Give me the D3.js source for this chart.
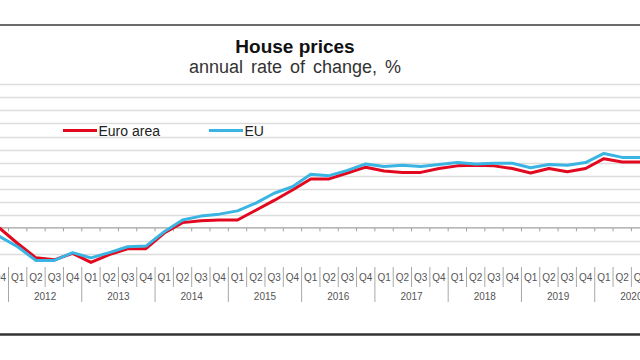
<!DOCTYPE html>
<html>
<head>
<meta charset="utf-8">
<script src="https://cdn.jsdelivr.net/npm/d3@7"></script>
<style>
  html, body { margin: 0; padding: 0; background: #fff; }
  svg { display: block; font-family: "Liberation Sans", Arial, sans-serif; }
</style>
</head>
<body>
<svg id="chart" width="640" height="360"></svg>
<script>
// ---- data ----
const years = [2012, 2013, 2014, 2015, 2016, 2017, 2018, 2019, 2020];
const quarters = [
  "2011-Q4",
  "2012-Q1","2012-Q2","2012-Q3","2012-Q4",
  "2013-Q1","2013-Q2","2013-Q3","2013-Q4",
  "2014-Q1","2014-Q2","2014-Q3","2014-Q4",
  "2015-Q1","2015-Q2","2015-Q3","2015-Q4",
  "2016-Q1","2016-Q2","2016-Q3","2016-Q4",
  "2017-Q1","2017-Q2","2017-Q3","2017-Q4",
  "2018-Q1","2018-Q2","2018-Q3","2018-Q4",
  "2019-Q1","2019-Q2","2019-Q3","2019-Q4",
  "2020-Q1","2020-Q2","2020-Q3"
];
const euroArea = [
  0.0,
  -1.2, -2.3, -2.45, -1.95,
  -2.65, -2.05, -1.6, -1.6,
  -0.4, 0.4, 0.55, 0.6,
  0.6, 1.35, 2.1, 2.9,
  3.75, 3.75, 4.2, 4.65,
  4.35, 4.25, 4.25, 4.55,
  4.75, 4.8, 4.75, 4.55,
  4.2, 4.55, 4.3, 4.55,
  5.3, 5.05, 5.05
];
const eu = [
  -0.65,
  -1.45, -2.5, -2.5, -1.9,
  -2.3, -1.9, -1.45, -1.4,
  -0.3, 0.6, 0.9, 1.05,
  1.3, 1.9, 2.65, 3.15,
  4.1, 4.0, 4.4, 4.9,
  4.7, 4.8, 4.7, 4.85,
  5.0, 4.9, 4.95, 4.95,
  4.6, 4.85, 4.8, 5.0,
  5.7, 5.4, 5.4
];
const seriesNames = ["Euro area", "EU"];
const seriesColors = ["#E2081F", "#3AB4E2"];
const yTicks = [-2, -1, 1, 2, 3, 4, 5, 6, 7, 8, 9, 10, 11];
const title = "House prices";
const subtitle = "annual rate of change, %";

// ---- layout ----
const svg = d3.select("#chart");
const W = 640;
const bandW = 18.32;
const xStart = 8.5 - bandW;
const plotTop = 84.3, plotBottom = 267;

const x = d3.scaleBand()
  .domain(quarters)
  .range([xStart, xStart + bandW * quarters.length])
  .paddingInner(0).paddingOuter(0);
const y = d3.scaleLinear().domain([-3, 11]).range([plotBottom, plotTop]);

// frame lines
svg.append("line").attr("x1", 0).attr("x2", W).attr("y1", 25).attr("y2", 25)
  .attr("stroke", "#3a3a3a").attr("stroke-width", 1.6);
svg.append("line").attr("x1", 0).attr("x2", W).attr("y1", 334.5).attr("y2", 334.5)
  .attr("stroke", "#333").attr("stroke-width", 2.6);

// gridlines
svg.append("g").selectAll("line").data(yTicks).join("line")
  .attr("x1", 0).attr("x2", W)
  .attr("y1", d => Math.round(y(d)) + 0.5).attr("y2", d => Math.round(y(d)) + 0.5)
  .attr("stroke", "#dcdcdc").attr("stroke-width", 1.4);

// zero axis with ticks
const y0 = y(0);
svg.append("line").attr("x1", 0).attr("x2", W).attr("y1", y0).attr("y2", y0)
  .attr("stroke", "#a0a0a0").attr("stroke-width", 1.4);
const boundaries = quarters.map(q => x(q));
svg.append("g").selectAll("line").data(boundaries).join("line")
  .attr("x1", d => d).attr("x2", d => d)
  .attr("y1", y0).attr("y2", y0 + 3.5)
  .attr("stroke", "#a0a0a0").attr("stroke-width", 1);

// category axis: quarter separators & labels
const sepColor = "#a8a8a8";
svg.append("g").selectAll("line").data(quarters).join("line")
  .attr("x1", d => x(d)).attr("x2", d => x(d))
  .attr("y1", plotBottom)
  .attr("y2", d => d.endsWith("Q1") ? 302 : 287)
  .attr("stroke", sepColor).attr("stroke-width", 1);

svg.append("g").selectAll("text").data(quarters).join("text")
  .attr("x", d => x(d) + x.bandwidth() / 2)
  .attr("y", 281)
  .attr("text-anchor", "middle")
  .attr("font-size", 10)
  .attr("fill", "#555")
  .text(d => d.split("-")[1]);

svg.append("g").selectAll("text").data(years).join("text")
  .attr("x", d => x(d + "-Q1") + 2 * bandW)
  .attr("y", 299.5)
  .attr("text-anchor", "middle")
  .attr("font-size", 10)
  .attr("fill", "#555")
  .text(d => d);

// lines
const line = d3.line()
  .x((d, i) => x(quarters[i]) + x.bandwidth() / 2)
  .y(d => y(d));
const series = [euroArea, eu];
series.forEach((s, i) => {
  svg.append("path").datum(s)
    .attr("d", line)
    .attr("fill", "none")
    .attr("stroke", seriesColors[i])
    .attr("stroke-width", 3)
    .attr("stroke-linejoin", "round");
});

// title
svg.append("text").attr("x", 295).attr("y", 53)
  .attr("text-anchor", "middle").attr("font-size", 19).attr("font-weight", "bold")
  .attr("fill", "#111").text(title);
svg.append("text").attr("x", 295).attr("y", 73)
  .attr("text-anchor", "middle").attr("font-size", 18).attr("word-spacing", 3)
  .attr("fill", "#333").text(subtitle);

// legend
const legendX = [63, 209];
seriesNames.forEach((name, i) => {
  const g = svg.append("g");
  g.append("line").attr("x1", legendX[i]).attr("x2", legendX[i] + 34)
    .attr("y1", 130.5).attr("y2", 130.5)
    .attr("stroke", seriesColors[i]).attr("stroke-width", 3);
  g.append("text").attr("x", legendX[i] + 35.5).attr("y", 135.5)
    .attr("font-size", 14).attr("fill", "#222").text(name);
});
</script>
</body>
</html>
